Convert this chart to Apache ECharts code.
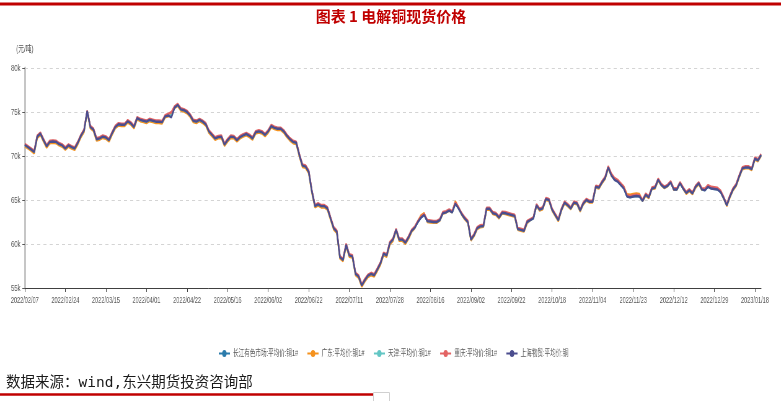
<!DOCTYPE html>
<html>
<head>
<meta charset="utf-8">
<script src="https://cdn.jsdelivr.net/npm/echarts@6/dist/echarts.min.js"></script>
<style>
html,body{margin:0;padding:0;background:#fff;}
#wrap{position:relative;width:781px;height:401px;overflow:hidden;background:#fff;}
#deco{position:absolute;left:0;top:0;width:781px;height:401px;}
#main{position:absolute;left:0;top:0;width:1260px;height:401px;transform:scaleX(0.6198);transform-origin:0 0;}
</style>
</head>
<body>
<div id="wrap"><div id="deco"></div><div id="main"></div></div>
<script>
const titleText = '图表 1 电解铜现货价格';
const sourceText = '数据来源：wind,东兴期货投资咨询部';
const yAxisName = '(元/吨)';
const yTicks = [55000, 60000, 65000, 70000, 75000, 80000];
const seriesNames = ['长江有色市场:平均价:铜1#', '广东:平均价:铜1#', '天津:平均价:铜1#', '重庆:平均价:铜1#', '上海物贸:平均价:铜'];
const seriesColors = ['#2b7bab', '#f5921e', '#63c6c4', '#e36464', '#4b4d8e'];

const categories = [
'2022/02/07','2022/02/08','2022/02/09','2022/02/10','2022/02/11','2022/02/14','2022/02/15','2022/02/16','2022/02/17','2022/02/18','2022/02/21','2022/02/22','2022/02/23','2022/02/24','2022/02/25','2022/02/28',
'2022/03/01','2022/03/02','2022/03/03','2022/03/04','2022/03/07','2022/03/08','2022/03/09','2022/03/10','2022/03/11','2022/03/14','2022/03/15','2022/03/16','2022/03/17','2022/03/18','2022/03/21','2022/03/22','2022/03/23','2022/03/24','2022/03/25','2022/03/28','2022/03/29','2022/03/30','2022/03/31',
'2022/04/01','2022/04/06','2022/04/07','2022/04/08','2022/04/11','2022/04/12','2022/04/13','2022/04/14','2022/04/15','2022/04/18','2022/04/19','2022/04/20','2022/04/21','2022/04/22','2022/04/25','2022/04/26','2022/04/27','2022/04/28','2022/04/29',
'2022/05/05','2022/05/06','2022/05/09','2022/05/10','2022/05/11','2022/05/12','2022/05/13','2022/05/16','2022/05/17','2022/05/18','2022/05/19','2022/05/20','2022/05/23','2022/05/24','2022/05/25','2022/05/26','2022/05/27','2022/05/30','2022/05/31',
'2022/06/01','2022/06/02','2022/06/06','2022/06/07','2022/06/08','2022/06/09','2022/06/10','2022/06/13','2022/06/14','2022/06/15','2022/06/16','2022/06/17','2022/06/20','2022/06/21','2022/06/22','2022/06/23','2022/06/24','2022/06/27','2022/06/28','2022/06/29','2022/06/30',
'2022/07/01','2022/07/04','2022/07/05','2022/07/06','2022/07/07','2022/07/08','2022/07/11','2022/07/12','2022/07/13','2022/07/14','2022/07/15','2022/07/18','2022/07/19','2022/07/20','2022/07/21','2022/07/22','2022/07/25','2022/07/26','2022/07/27','2022/07/28','2022/07/29',
'2022/08/01','2022/08/02','2022/08/03','2022/08/04','2022/08/05','2022/08/08','2022/08/09','2022/08/10','2022/08/11','2022/08/12','2022/08/15','2022/08/16','2022/08/17','2022/08/18','2022/08/19','2022/08/22','2022/08/23','2022/08/24','2022/08/25','2022/08/26','2022/08/29','2022/08/30','2022/08/31',
'2022/09/01','2022/09/02','2022/09/05','2022/09/06','2022/09/07','2022/09/08','2022/09/09','2022/09/13','2022/09/14','2022/09/15','2022/09/16','2022/09/19','2022/09/20','2022/09/21','2022/09/22','2022/09/23','2022/09/26','2022/09/27','2022/09/28','2022/09/29','2022/09/30',
'2022/10/10','2022/10/11','2022/10/12','2022/10/13','2022/10/14','2022/10/17','2022/10/18','2022/10/19','2022/10/20','2022/10/21','2022/10/24','2022/10/25','2022/10/26','2022/10/27','2022/10/28','2022/10/31',
'2022/11/01','2022/11/02','2022/11/03','2022/11/04','2022/11/07','2022/11/08','2022/11/09','2022/11/10','2022/11/11','2022/11/14','2022/11/15','2022/11/16','2022/11/17','2022/11/18','2022/11/21','2022/11/22','2022/11/23','2022/11/24','2022/11/25','2022/11/28','2022/11/29','2022/11/30',
'2022/12/01','2022/12/02','2022/12/05','2022/12/06','2022/12/07','2022/12/08','2022/12/09','2022/12/12','2022/12/13','2022/12/14','2022/12/15','2022/12/16','2022/12/19','2022/12/20','2022/12/21','2022/12/22','2022/12/23','2022/12/26','2022/12/27','2022/12/28','2022/12/29','2022/12/30',
'2023/01/03','2023/01/04','2023/01/05','2023/01/06','2023/01/09','2023/01/10','2023/01/11','2023/01/12','2023/01/13','2023/01/16','2023/01/17','2023/01/18','2023/01/19','2023/01/20'
];

const shanghai = [
71250,71000,70750,70450,72200,72550,71800,71100,71600,71650,71600,71350,71200,70850,71200,71000,
70850,71500,72300,72900,75100,73300,73000,71900,72000,72200,72100,71800,72600,73300,73600,73550,73550,73950,73700,73300,74300,74100,74000,
73900,74100,74000,73900,73900,73850,74500,74600,74400,75500,75800,75300,75200,75000,74600,74000,73900,74100,73900,
73600,72800,72400,72000,72150,72200,71300,71800,72200,72150,71800,72150,72350,72500,72300,72000,72700,72800,72700,
72400,72800,73400,73200,73100,73100,72800,72300,71900,71600,71500,70100,68900,68800,68200,66000,64300,64500,64300,64300,64050,
62900,61800,61400,58500,58200,59900,58700,58600,56600,56300,55300,55900,56400,56600,56450,57100,57800,58900,58700,60100,60500,
61600,60500,60500,60150,60750,61500,61850,62500,63000,63300,62600,62550,62500,62500,62700,63500,63600,63800,63600,64600,64050,63400,62900,
62500,60500,61000,61800,62000,62050,64000,64000,63500,63400,63000,63550,63500,63400,63300,63200,61700,61600,61500,62500,62700,
62900,64400,63900,64050,65100,65000,63900,63300,62700,63900,64700,64400,64050,64700,64600,63800,
64600,65000,64800,64800,66500,66400,67000,67500,68700,67800,67300,67100,66700,66300,65400,65300,65400,65450,65400,64900,65600,65300,
66300,66400,67300,66700,66400,66600,67000,66200,66200,66900,66300,65800,66100,65750,66500,66900,66200,66100,66500,66300,66250,66200,
65900,65200,64400,65400,66200,66700,67700,68600,68700,68700,68500,69700,69500,70100
];

const changjiang = [
71300,71050,70800,70500,72250,72600,71850,71150,71650,71700,71650,71400,71250,70900,71250,71050,
70900,71550,72350,72950,75100,73350,73050,71950,72050,72250,72150,71850,72650,73350,73650,73600,73600,74000,73750,73350,74350,74150,74050,
73950,74150,74050,73950,73950,73900,74550,74650,74700,75550,75850,75350,75250,75050,74650,74050,73950,74150,73950,
73650,72850,72450,72050,72200,72250,71350,71850,72250,72200,71850,72200,72400,72550,72350,72050,72750,72850,72750,
72450,72850,73450,73250,73150,73150,72850,72350,71950,71650,71550,70150,68950,68850,68250,66050,64350,64550,64350,64350,64100,
62950,61850,61450,58550,58250,59950,58750,58650,56650,56350,55350,55950,56450,56650,56500,57150,57850,58950,58750,60150,60550,
61650,60550,60550,60200,60800,61550,61900,62550,63050,63350,62650,62600,62550,62550,62750,63550,63650,63850,63650,64650,64100,63450,62950,
62550,60550,61050,61850,62050,62100,64050,64050,63550,63450,63050,63600,63550,63450,63350,63250,61750,61650,61550,62550,62750,
62950,64450,63950,64100,65150,65050,63950,63350,62750,63950,64750,64450,64100,64750,64650,63850,
64650,65050,64850,64850,66550,66450,67050,67550,68750,67850,67350,67150,66750,66350,65450,65350,65450,65500,65450,64950,65650,65350,
66350,66450,67350,66750,66450,66650,67050,66250,66250,66950,66350,65850,66150,65800,66550,66950,66250,66150,66550,66350,66300,66250,
65950,65250,64450,65450,66250,66750,67750,68650,68750,68750,68550,69750,69550,70150
];

const guangdong = [
71100,70850,70600,70300,72050,72400,71650,70950,71450,71500,71450,71200,71050,70700,71050,70850,
70700,71350,72150,72750,75000,73150,72850,71750,71850,72050,71950,71650,72450,73150,73450,73400,73400,73800,73550,73150,74150,73950,73850,
73750,73950,73850,73750,73750,73700,74400,74500,74900,75450,75700,75150,75050,74850,74450,73850,73750,73950,73750,
73450,72650,72250,71850,72000,72050,71150,71650,72050,72000,71650,72000,72200,72350,72150,71850,72550,72650,72550,
72250,72650,73250,73050,72950,72950,72650,72150,71750,71450,71350,69950,68750,68650,68050,65850,64150,64350,64150,64150,63900,
62750,61650,61250,58350,58050,59750,58550,58450,56450,56150,55150,55750,56250,56450,56300,56950,57650,58750,58550,59950,60350,
61500,60350,60350,60000,60600,61400,61800,62600,63250,63500,62500,62450,62400,62400,62650,63450,63550,63800,63600,64850,64150,63350,62800,
62400,60400,60900,61700,61900,61950,63900,63900,63400,63300,62900,63450,63400,63300,63200,63100,61600,61500,61400,62350,62700,
63000,64300,63800,63950,65000,64900,63800,63200,62600,63800,64600,64300,63950,64600,64500,63700,
64500,64900,64700,64700,66400,66300,66900,67400,68600,67750,67350,67200,66850,66500,65650,65600,65700,65750,65700,64850,65500,65200,
66250,66300,67200,66650,66350,66550,67050,66150,66150,66950,66250,65700,66000,65650,66400,66800,66150,66150,66600,66450,66350,66250,
65950,65150,64300,65300,66100,66600,67600,68500,68600,68600,68400,69600,69400,70000
];

const tianjin = [
71250,71020,70760,70450,72220,72550,71800,71120,71600,71660,71600,71360,71200,70860,71200,71010,
70850,71500,72310,72900,75080,73300,73010,71900,72000,72210,72100,71810,72600,73300,73610,73550,73560,73950,73700,73310,74300,74110,74000,
73910,74100,74010,73900,73910,73850,74510,74610,74600,75520,75800,75310,75200,75010,74600,74010,73900,74110,73900,
73610,72800,72410,72000,72160,72200,71310,71800,72210,72150,71810,72150,72360,72500,72310,72000,72710,72800,72710,
72400,72810,73400,73210,73100,73110,72800,72310,71900,71610,71500,70110,68900,68810,68200,66010,64300,64510,64300,64310,64050,
62910,61800,61410,58500,58210,59900,58710,58600,56610,56300,55310,55900,56410,56600,56460,57100,57810,58900,58710,60100,60510,
61600,60510,60500,60160,60750,61510,61850,62510,63000,63310,62600,62560,62500,62510,62700,63510,63600,63810,63600,64610,64050,63410,62900,
62510,60500,61010,61800,62010,62050,64010,64000,63510,63400,63010,63550,63510,63400,63310,63200,61710,61600,61510,62500,62710,
62900,64410,63900,64060,65100,65010,63900,63310,62700,63910,64700,64410,64050,64710,64600,63810,
64600,65010,64800,64810,66500,66410,67000,67510,68700,67810,67300,67110,66700,66310,65400,65310,65400,65460,65400,64910,65600,65310,
66300,66410,67300,66710,66400,66610,67000,66210,66200,66910,66300,65810,66100,65760,66500,66910,66200,66110,66500,66310,66250,66210,
65900,65210,64400,65410,66200,66710,67700,68610,68700,68710,68500,69710,69500,70110
];

const chongqing = [
71380,71120,70870,70580,72330,72680,71920,71230,71730,71780,71740,71480,71330,70980,71320,71130,
70980,71630,72420,73030,75150,73420,73130,72030,72130,72330,72230,71930,72730,73430,73730,73680,73680,74080,73830,73430,74430,74230,74130,
74030,74230,74130,74030,74030,73980,74650,74800,75000,75650,75930,75430,75330,75130,74730,74130,74030,74230,74030,
73730,72930,72530,72130,72280,72330,71430,71930,72330,72280,71930,72280,72480,72630,72430,72130,72830,72930,72830,
72530,72930,73530,73330,73230,73230,72930,72430,72030,71730,71630,70230,69030,68930,68330,66130,64430,64630,64430,64430,64180,
63030,61930,61530,58630,58330,60030,58830,58730,56730,56430,55430,56030,56530,56730,56580,57230,57930,59030,58830,60230,60630,
61730,60630,60630,60280,60880,61630,61980,62630,63130,63430,62730,62680,62630,62630,62830,63630,63730,63930,63730,64730,64180,63530,63030,
62630,60630,61130,61930,62130,62180,64130,64130,63630,63530,63130,63680,63630,63530,63430,63330,61830,61730,61630,62630,62830,
63030,64530,64030,64180,65230,65130,64030,63430,62830,64030,64830,64530,64180,64830,64730,63930,
64730,65130,64930,64930,66630,66530,67130,67630,68830,68000,67500,67300,66900,66500,65550,65450,65550,65600,65550,65030,65730,65430,
66430,66530,67430,66830,66530,66730,67130,66330,66330,67030,66430,65930,66230,65880,66630,67030,66330,66300,66700,66500,66450,66400,
66080,65330,64530,65530,66330,66830,67830,68730,68830,68830,68630,69830,69630,70230
];

const seriesData = [changjiang, guangdong, tianjin, chongqing, shanghai];

const chart = echarts.init(document.getElementById('main'));
chart.setOption({
  animation: false,
  backgroundColor: 'transparent',
  grid: { left: 40, right: 32, top: 68, bottom: 113, containLabel: false },
  legend: {
    left: 347, top: 344,
    itemWidth: 18, itemHeight: 9, itemGap: 14,
    data: seriesNames,
    textStyle: { fontSize: 9, color: '#595959', fontFamily: 'Liberation Sans, Noto Sans CJK SC' }
  },
  xAxis: {
    type: 'category',
    data: categories,
    boundaryGap: false,
    axisLine: { lineStyle: { color: '#404040', width: 1 } },
    axisTick: { show: true, interval: 12, length: 4, lineStyle: { color: '#404040' } },
    axisLabel: { interval: 12, fontSize: 9, color: '#595959', margin: 8, fontFamily: 'Liberation Sans, Arial' },
    splitLine: { show: false }
  },
  yAxis: {
    type: 'value',
    min: yTicks[0], max: yTicks[yTicks.length - 1], interval: 5000,
    name: yAxisName,
    nameLocation: 'end',
    nameGap: 14,
    nameTextStyle: { fontSize: 9.5, color: '#595959', align: 'center', fontFamily: 'Liberation Sans, Noto Sans CJK SC' },
    axisLine: { show: true, lineStyle: { color: '#c6c6c6', width: 3 } },
    axisTick: { show: true, length: 4, lineStyle: { color: '#595959' } },
    axisLabel: { fontSize: 9.5, color: '#595959', margin: 7, fontFamily: 'Liberation Sans, Arial', formatter: v => (v / 1000) + 'k' },
    splitLine: { show: true, lineStyle: { color: '#d4d4d4', type: [5, 5], width: 1 } }
  },
  series: seriesNames.map((n, i) => ({
    name: n,
    type: 'line',
    data: seriesData[i],
    showSymbol: false,
    symbol: 'circle',
    symbolSize: 7,
    color: seriesColors[i],
    lineStyle: { width: 2.4, color: seriesColors[i] },
    z: 2 + i
  }))
});

const deco = echarts.init(document.getElementById('deco'));
deco.setOption({
  animation: false,
  graphic: [
    { type: 'rect', shape: { x: 0, y: 2.5, width: 781, height: 3 }, style: { fill: '#c00000' } },
    { type: 'text', x: 391, y: 16, style: { text: titleText, fill: '#c00000', fontSize: 15, fontWeight: 'bold', fontFamily: 'Noto Sans CJK SC, serif', align: 'center', verticalAlign: 'middle' } },
    { type: 'text', x: 6, y: 383, style: { text: sourceText, fill: '#1a1a1a', fontSize: 14.5, fontFamily: 'DejaVu Sans Mono, Noto Sans CJK SC', align: 'left', verticalAlign: 'middle' } },
    { type: 'rect', shape: { x: 0, y: 393.3, width: 373, height: 2.4 }, style: { fill: '#c00000' } },
    { type: 'rect', shape: { x: 373.5, y: 392.5, width: 16, height: 10 }, style: { fill: 'none', stroke: '#d0d0d0', lineWidth: 1 } }
  ]
});
</script>
</body>
</html>
